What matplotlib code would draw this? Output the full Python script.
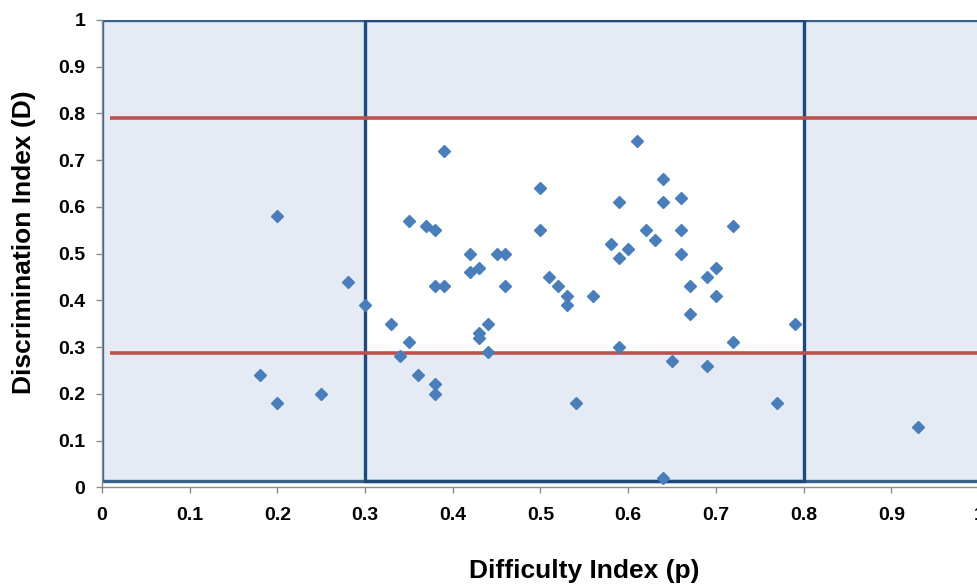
import matplotlib.pyplot as plt
from matplotlib.patches import Rectangle

# 難易度 p と識別度 D
difficulty = [0.18, 0.20, 0.20, 0.25, 0.28, 0.30, 0.33, 0.34, 0.35, 0.35,
              0.36, 0.37, 0.38, 0.38, 0.38, 0.38, 0.39, 0.39, 0.42, 0.42,
              0.43, 0.43, 0.43, 0.44, 0.44, 0.45, 0.46, 0.46, 0.50, 0.50,
              0.51, 0.52, 0.53, 0.53, 0.54, 0.56, 0.58, 0.59, 0.59, 0.59,
              0.60, 0.61, 0.62, 0.63, 0.64, 0.64, 0.64, 0.65, 0.66, 0.66,
              0.66, 0.67, 0.67, 0.69, 0.69, 0.70, 0.70, 0.72, 0.72, 0.77,
              0.79, 0.93]
discrimination = [0.24, 0.58, 0.18, 0.20, 0.44, 0.39, 0.35, 0.28, 0.57, 0.31,
                  0.24, 0.56, 0.55, 0.43, 0.22, 0.20, 0.72, 0.43, 0.50, 0.46,
                  0.47, 0.33, 0.32, 0.35, 0.29, 0.50, 0.50, 0.43, 0.64, 0.55,
                  0.45, 0.43, 0.41, 0.39, 0.18, 0.41, 0.52, 0.61, 0.49, 0.30,
                  0.51, 0.74, 0.55, 0.53, 0.66, 0.61, 0.02, 0.27, 0.62, 0.55,
                  0.50, 0.43, 0.37, 0.45, 0.26, 0.47, 0.41, 0.56, 0.31, 0.18,
                  0.35, 0.13]

# 許容範囲の境界
p_range = [0.3, 0.8]
d_limits = [0.287, 0.79]
box_bottom = 0.014

ticks = [0, 0.1, 0.2, 0.3, 0.4, 0.5, 0.6, 0.7, 0.8, 0.9, 1]
tick_labels = ["0", "0.1", "0.2", "0.3", "0.4", "0.5", "0.6", "0.7", "0.8", "0.9", "1"]

plt.rcParams['font.family'] = ['Liberation Sans', 'DejaVu Sans']
plt.rcParams['font.weight'] = 'bold'

fig = plt.figure(figsize=(9.78, 5.84), dpi=100)
ax = fig.add_axes([102 / 978, 96.7 / 584, 877 / 978, 467.3 / 584])

light = '#E4EBF5'
border = '#3B5E8C'
dark = '#1F497D'
red = '#C0504D'

# 全体の背景枠
ax.add_patch(Rectangle((0, box_bottom), 1.0, 1.0 - box_bottom,
                       facecolor=light, edgecolor=border, linewidth=2.4, zorder=1))
# 中央の白い領域
ax.add_patch(Rectangle((p_range[0], d_limits[0]), p_range[1] - p_range[0],
                       d_limits[1] - d_limits[0],
                       facecolor='white', edgecolor='none', zorder=2))
# 中央の枠
ax.add_patch(Rectangle((p_range[0], box_bottom), p_range[1] - p_range[0],
                       1.0 - box_bottom,
                       facecolor='none', edgecolor=dark, linewidth=2.4, zorder=3))
# 識別度の基準線
for d in d_limits:
    ax.plot([0.009, 1.0], [d, d], color=red, linewidth=2.6, zorder=4,
            solid_capstyle='butt')

ax.plot(difficulty, discrimination, linestyle='none', marker='D',
        markersize=5.8, color='#4A7EBB', markeredgecolor='#4A7EBB', zorder=5)

ax.set_xlim(0, 1)
ax.set_ylim(0, 1)
ax.set_xticks(ticks)
ax.set_xticklabels(tick_labels)
ax.set_yticks(ticks)
ax.set_yticklabels(tick_labels)
ax.tick_params(axis='both', direction='out', length=4, width=1,
               color='#8C8C8C', labelsize=14)
ax.tick_params(axis='x', pad=10)
ax.tick_params(axis='y', pad=8)

for side in ['top', 'right']:
    ax.spines[side].set_visible(False)
for side in ['left', 'bottom']:
    ax.spines[side].set_color('#8C8C8C')
    ax.spines[side].set_linewidth(1)

fig.text(584 / 978, 1 - 571 / 584, "Difficulty Index (p)", ha='center', va='center',
         fontsize=19, fontweight='bold')
fig.text(24 / 978, 1 - 242 / 584, "Discrimination Index (D)", ha='center', va='center',
         rotation=90, fontsize=19, fontweight='bold')

fig.savefig('out.png', dpi=100)
